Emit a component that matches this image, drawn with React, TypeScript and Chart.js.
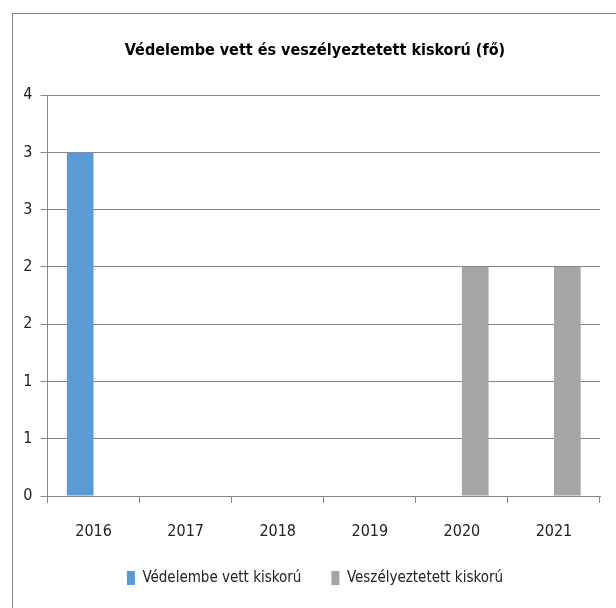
import React, { useEffect, useRef } from "react";
import { Chart, registerables } from "chart.js";

Chart.register(...registerables);

const title = "Védelembe vett és veszélyeztetett kiskorú (fő)";
const years = ["2016", "2017", "2018", "2019", "2020", "2021"];
const seriesA = "Védelembe vett kiskorú";
const seriesB = "Veszélyeztetett kiskorú";
const valuesA: (number | null)[] = [3, null, null, null, null, null];
const valuesB: (number | null)[] = [null, null, null, null, 2, 2];
const yMin = 0;
const yMax = 3.5;
const yStep = 0.5;

const FONT = "'DejaVu Sans Condensed', 'DejaVu Sans', sans-serif";

export default function App() {
  const ref = useRef<HTMLCanvasElement>(null);
  useEffect(() => {
    if (!ref.current) return;
    const chart = new Chart(ref.current, {
      type: "bar",
      data: {
        labels: years,
        datasets: [
          { label: seriesA, data: valuesA, backgroundColor: "#5B9BD5", categoryPercentage: 0.58, barPercentage: 1 } as any,
          { label: seriesB, data: valuesB, backgroundColor: "#A5A5A5", categoryPercentage: 0.58, barPercentage: 1 } as any,
        ],
      },
      options: {
        animation: false,
        responsive: false,
        layout: { padding: { left: 30, right: 16, top: 0, bottom: 12.5 } },
        plugins: {
          title: {
            display: true,
            text: title,
            color: "#000",
            font: { family: FONT, size: 16, weight: "bold" },
            padding: { top: 41, bottom: 35 },
          },
          legend: {
            position: "bottom",
            labels: {
              color: "#222",
              font: { family: FONT, size: 15 },
              boxWidth: 8,
              boxHeight: 14,
              padding: 30,
            },
          },
          tooltip: { enabled: false },
        },
        scales: {
          x: {
            grid: { display: true, drawOnChartArea: false, drawTicks: true, tickLength: 7, color: "#868686", offset: true },
            border: { color: "#868686" },
            ticks: { color: "#222", font: { family: FONT, size: 16 }, padding: 19, maxRotation: 0 },
            afterFit: (s: any) => {
              s.height = 44.5;
            },
          },
          y: {
            min: yMin,
            max: yMax,
            grid: { color: "#868686", tickLength: 7 },
            border: { color: "#868686" },
            ticks: {
              stepSize: yStep,
              color: "#222",
              font: { family: FONT, size: 16 },
              padding: 8,
              callback: (v: any) => String(Math.round(Number(v))),
            },
            afterFit: (s: any) => {
              s.width = 17.5;
              s._computeLabelArea = () => undefined;
            },
          },
        },
      },
    });
    return () => chart.destroy();
  }, []);
  return (
    <div style={{ position: "absolute", left: 0, top: 0, width: 616, height: 608, background: "#fff", overflow: "hidden" }}>
      <div style={{ position: "absolute", left: 12, top: 13, width: 700, height: 700, borderLeft: "1px solid #888", borderTop: "1px solid #888" }} />
      <canvas ref={ref} width={616} height={608} style={{ position: "absolute", left: 0, top: 0 }} />
    </div>
  );
}
